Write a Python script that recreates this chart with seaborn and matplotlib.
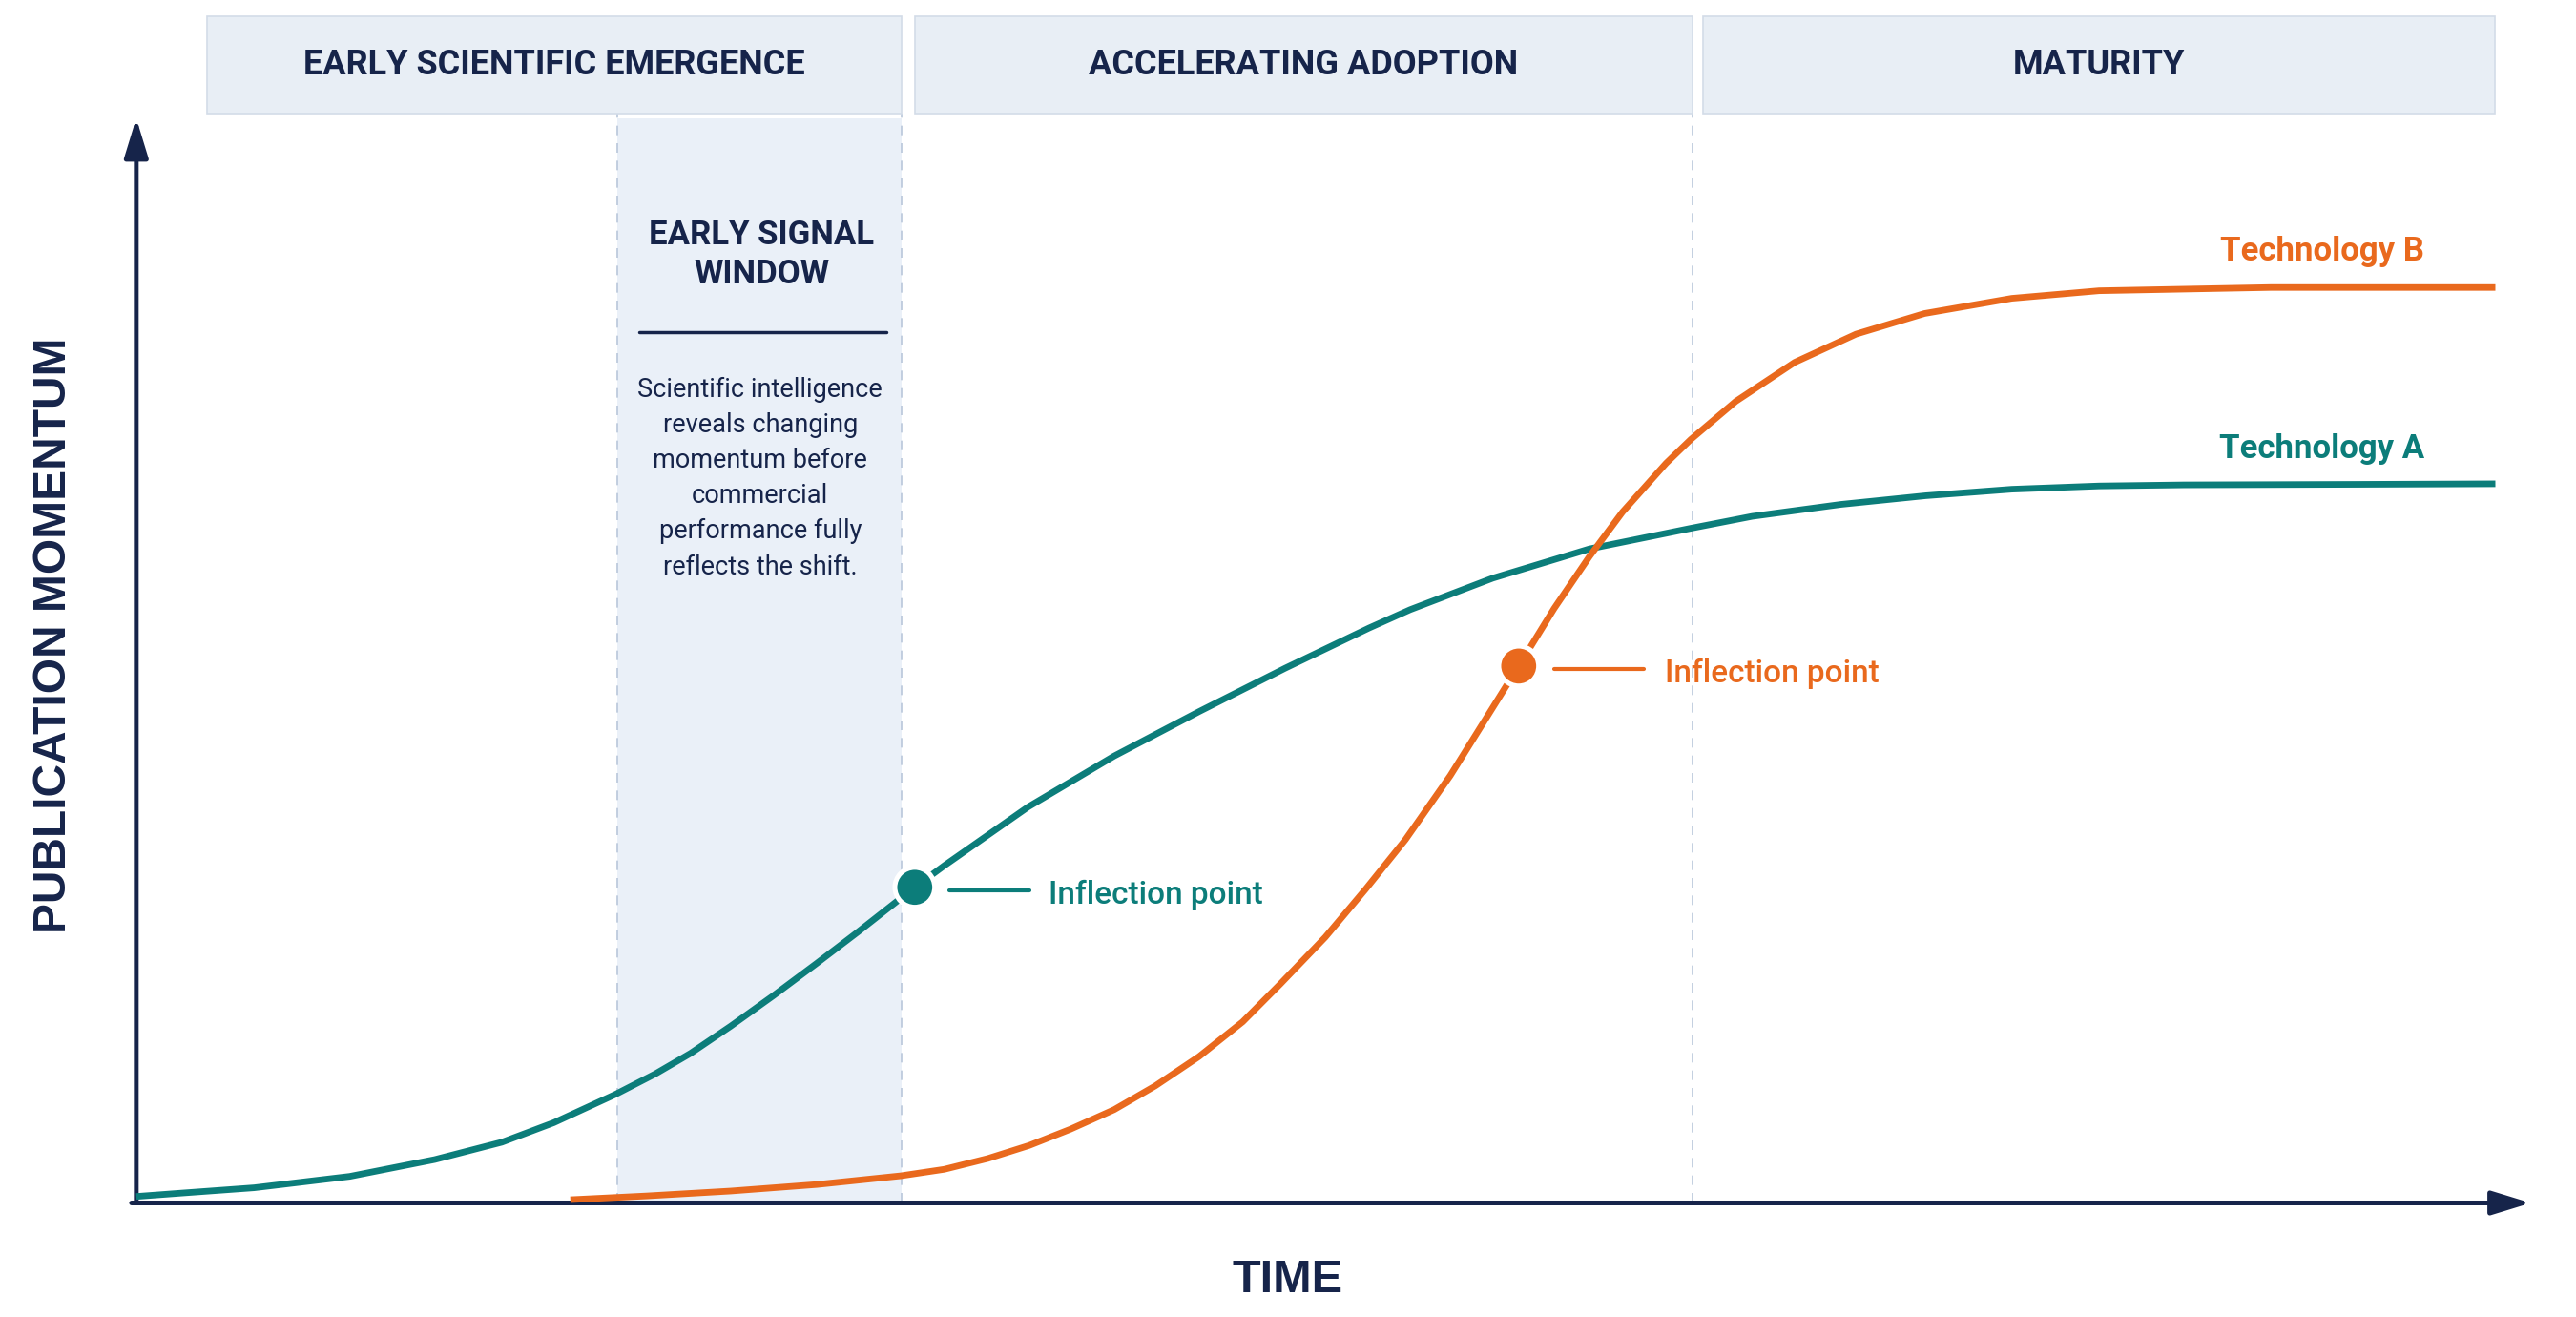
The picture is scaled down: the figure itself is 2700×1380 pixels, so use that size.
import pandas as pd
import matplotlib
matplotlib.use("Agg")
import matplotlib.pyplot as plt
import seaborn as sns

# readings from the picture: time 0-100, momentum 0-100
tech_a_time = [0, 1.85, 5, 9.05, 12.65, 15.5, 17.7, 20.3, 22.0, 23.5, 25.2, 27.0, 28.85,
               30.6, 33.0, 34.25, 37.8, 41.45, 45.05, 48.7, 52.25, 54.0, 57.5, 61.6,
               65.9, 68.5, 72.25, 75.85, 79.5, 83.2, 86.8, 94.2, 100]
tech_a_momentum = [0.6, 0.9, 1.4, 2.45, 4.0, 5.6, 7.4, 10.0, 11.9, 13.8, 16.3, 19.1, 22.1,
                   25.0, 29.1, 31.1, 36.5, 41.2, 45.3, 49.3, 53.0, 54.7, 57.6, 60.3,
                   62.2, 63.3, 64.4, 65.2, 65.8, 66.1, 66.2, 66.25, 66.3]
tech_b_time = [18.4, 21.65, 25.2, 28.85, 32.4, 34.25, 36.1, 37.85, 39.6, 41.45, 43.2, 45.05,
               46.9, 48.5, 50.4, 52.1, 53.8, 55.7, 58.6, 60.1, 61.6, 63.0, 64.85, 65.9,
               67.8, 70.3, 72.9, 75.8, 79.5, 83.2, 90.5, 100]
tech_b_momentum = [0.3, 0.65, 1.1, 1.7, 2.5, 3.1, 4.1, 5.3, 6.8, 8.6, 10.8, 13.5,
                   16.7, 20.2, 24.5, 28.9, 33.5, 39.4, 49.5, 54.8, 59.6, 63.7, 68.2, 70.4,
                   73.9, 77.5, 80.1, 82.0, 83.4, 84.1, 84.4, 84.4]

inflection_time = [33.0, 58.6]
inflection_momentum = [29.1, 49.5]
tech_names = ['Technology A', 'Technology B']

phase_names = ['EARLY SCIENTIFIC EMERGENCE', 'ACCELERATING ADOPTION', 'MATURITY']
phase_start = [3.0, 33.0, 66.4]
phase_end = [32.45, 65.95, 100.0]
window_start, window_end = 20.4, 32.45
phase_split = 65.95

window_title = 'EARLY SIGNAL\nWINDOW'
window_text = ('Scientific intelligence\nreveals changing\nmomentum before\n'
               'commercial\nperformance fully\nreflects the shift.')

teal = '#0C7D7A'
orange = '#E9691D'
navy = '#16244A'
pale = '#EAF0F8'
dash_col = '#B9C7DA'

sns.set_theme(style='white')
plt.rcParams['font.family'] = ['Roboto', 'DejaVu Sans']

df = pd.DataFrame({
    'time': tech_a_time + tech_b_time,
    'momentum': tech_a_momentum + tech_b_momentum,
    'tech': [tech_names[0]] * len(tech_a_time) + [tech_names[1]] * len(tech_b_time),
})
dots = pd.DataFrame({'time': inflection_time, 'momentum': inflection_momentum, 'tech': tech_names})
palette = {tech_names[0]: teal, tech_names[1]: orange}

fig = plt.figure(figsize=(27, 13.8), dpi=100)
ax = fig.add_axes([0.0529, 0.0866, 0.9158, 0.8236])

# shaded early signal window and dashed phase borders
ax.axvspan(window_start, window_end, ymin=0, ymax=1.0045, color=pale, zorder=0, lw=0)
for xv in [window_start, window_end, phase_split]:
    ax.plot([xv, xv], [0, 100.45], color=dash_col, lw=1.2, ls=(0, (6, 5)), zorder=1, clip_on=False)

# phase header boxes
for name, x0, x1 in zip(phase_names, phase_start, phase_end):
    ax.add_patch(plt.Rectangle((x0, 100.45), x1 - x0, 9.0, facecolor='#E8EEF5',
                               edgecolor='#D3DCE8', lw=1.2, clip_on=False, zorder=1))
    ax.text((x0 + x1) / 2, 104.95, name, ha='center', va='center', fontsize=26,
            fontweight='bold', color=navy)

# axes drawn as arrows
arrow = dict(arrowstyle='-|>,head_length=0.62,head_width=0.19', lw=3.6,
             color=navy, mutation_scale=40, shrinkA=0, shrinkB=0)
ax.annotate('', xy=(0, 100), xytext=(0, 0), arrowprops=arrow, annotation_clip=False, zorder=3)
ax.annotate('', xy=(101.5, 0), xytext=(-0.2, 0), arrowprops=arrow, annotation_clip=False, zorder=3)

sns.lineplot(data=df, x='time', y='momentum', hue='tech', palette=palette, estimator=None,
             sort=False, lw=4.9, legend=False, ax=ax, zorder=4, clip_on=False,
             solid_joinstyle='round', solid_capstyle='butt')
sns.scatterplot(data=dots, x='time', y='momentum', hue='tech', palette=palette, s=900,
                edgecolor='white', linewidth=3.6, legend=False, ax=ax, zorder=5, clip_on=False)
ax.set_xlim(0, 100)
ax.set_ylim(0, 100)
ax.axis('off')

# inflection point callouts
ax.plot([34.45, 37.85], [28.8, 28.8], color=teal, lw=3, zorder=4)
ax.text(38.65, 28.4, 'Inflection point', color=teal, fontsize=24, fontweight='medium', va='center')
ax.plot([60.1, 63.9], [49.2, 49.2], color=orange, lw=3, zorder=4)
ax.text(64.8, 48.8, 'Inflection point', color=orange, fontsize=24, fontweight='medium', va='center')

ax.text(97.0, 87.7, tech_names[1], color=orange, fontsize=25, fontweight='semibold', ha='right', va='center')
ax.text(97.0, 69.5, tech_names[0], color=teal, fontsize=25, fontweight='semibold', ha='right', va='center')

# early signal window text
ax.text(26.5, 87.4, window_title, ha='center', va='center', fontsize=25, fontweight='bold',
        color=navy, linespacing=1.3)
ax.plot([21.3, 31.8], [80.3, 80.3], color=navy, lw=2.5, zorder=3)
ax.text(26.45, 66.8, window_text, ha='center', va='center', fontsize=19.5, color=navy, linespacing=1.48)

ax.text(-3.5, 52.3, 'PUBLICATION MOMENTUM', rotation=90, ha='center', va='center', fontsize=34.5,
        fontweight='bold', color=navy, family=['Liberation Sans', 'DejaVu Sans'])
ax.text(48.8, -7.1, 'TIME', ha='center', va='center', fontsize=35, fontweight='bold',
        color=navy, family=['Liberation Sans', 'DejaVu Sans'])

fig.savefig('out.png', dpi=100, facecolor='white')
